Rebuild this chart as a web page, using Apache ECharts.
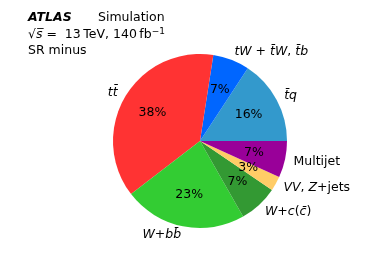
<!DOCTYPE html>
<html>
<head>
<meta charset="utf-8">
<script src="https://cdn.jsdelivr.net/npm/echarts@6/dist/echarts.min.js"></script>
<style>
html,body{margin:0;padding:0;background:#fff;}
#c{width:391px;height:279px;}
</style>
</head>
<body>
<div id="c"></div>
<script>
// Data (counter-clockwise from 3 o'clock)
const categories = ['t\u0304q', 'tW + t\u0304W, t\u0304b', 't t\u0304', 'W+bb\u0304', 'W+c(c\u0304)', 'VV, Z+jets', 'Multijet'];
const fractions = [15.75, 6.8, 37.9, 22.8, 7.25, 2.7, 6.8];
const colors = ['#3399cc', '#0066ff', '#ff3333', '#33cc33', '#339933', '#ffcc66', '#990099'];
const richLabels = [
  '{i|t\u0304q}',
  '{i|tW}{n| + }{i|t\u0304W}{n|, }{i|t\u0304b}',
  '{i|tt\u0304}',
  '{i|W}{n|+}{i|bb\u0304}',
  '{i|W}{n|+}{i|c}{n|(}{i|c\u0304}{n|)}',
  '{i|VV}{n|, }{i|Z}{n|+jets}',
  '{n|Multijet}'
];

const FONT = 'DejaVu Sans';
const FS = 12.5;
const R = 87;
const CX = 200, CY = 141;

const chart = echarts.init(document.getElementById('c'), null, {renderer: 'canvas'});
const data = categories.map((c, i) => ({name: c, value: fractions[i], itemStyle: {color: colors[i]}}));
const overlay = categories.map((c, i) => ({name: c, value: fractions[i]}));

const base = {fontFamily: FONT, fontSize: 12.5, fontWeight: 'normal', color: '#000', lineHeight: 16};
chart.setOption({
  animation: false,
  backgroundColor: '#ffffff',
  title: [
    {left: 28, top: 10, padding: 0, text: 'ATLAS', textStyle: Object.assign({}, base, {fontWeight: 'bold', fontStyle: 'italic'})},
    {left: 98, top: 10, padding: 0, text: 'Simulation', textStyle: base},
    {left: 28, top: 27, padding: 0, text: '{n|\u221a}{i|s\u0305}{n| =  13\u2009TeV, 140\u2009fb}{sup|\u22121}',
      textStyle: Object.assign({}, base, {
        rich: {
          n: base,
          i: Object.assign({}, base, {fontStyle: 'italic'}),
          sup: {fontFamily: FONT, fontSize: 9, fontWeight: 'normal', color: '#000', verticalAlign: 'top', lineHeight: 12}
        }})},
    {left: 28, top: 43, padding: 0, text: 'SR minus', textStyle: base}
  ],
  series: [
    {
      type: 'pie',
      center: [CX, CY],
      radius: [0, R],
      startAngle: 0,
      clockwise: false,
      avoidLabelOverlap: false,
      silent: true,
      data: data,
      itemStyle: {borderWidth: 0},
      label: {
        show: true,
        position: 'outside',
        distanceToLabelLine: 0,
        formatter: p => richLabels[p.dataIndex],
        color: '#000',
        fontFamily: FONT,
        fontSize: FS,
        rich: {
          n: {fontFamily: FONT, fontSize: FS, color: '#000'},
          i: {fontFamily: FONT, fontSize: FS, fontStyle: 'italic', color: '#000'}
        }
      },
      labelLine: {show: false, length: R * 0.1, length2: 0}
    },
    {
      type: 'pie',
      center: [CX, CY],
      radius: [0, R * 1.2],
      startAngle: 0,
      clockwise: false,
      avoidLabelOverlap: false,
      silent: true,
      z: 5,
      data: overlay,
      itemStyle: {color: 'rgba(0,0,0,0)', borderWidth: 0},
      label: {
        show: true,
        position: 'inside',
        formatter: p => Math.round(p.value) + '%',
        color: '#000',
        fontFamily: FONT,
        fontSize: FS
      },
      labelLine: {show: false}
    }
  ]
});
</script>
</body>
</html>
